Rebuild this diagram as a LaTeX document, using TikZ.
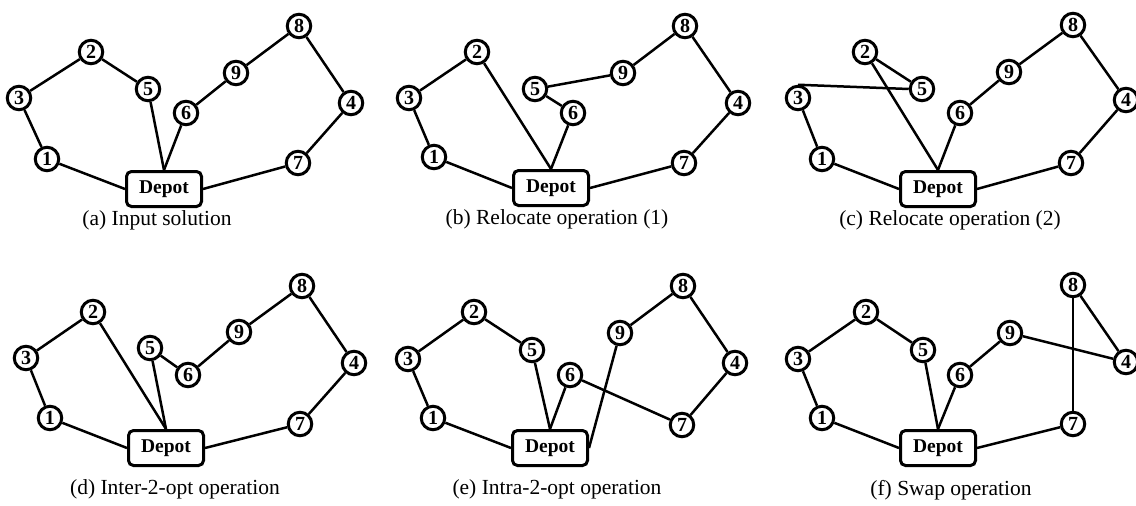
\documentclass[tikz,border=0pt]{standalone}
\usepackage{fontspec}
\setmainfont{Liberation Serif}
\tikzset{
  cust/.style={circle, draw, line width=3pt, fill=white, minimum size=23.5pt,
    inner sep=0pt, font=\fontsize{20}{20}\selectfont\bfseries},
  depot/.style={rectangle, draw, rounded corners=5pt, line width=3pt, fill=white,
    minimum width=75pt, minimum height=35pt, inner sep=0pt,
    font=\fontsize{19.5}{19.5}\selectfont\bfseries},
  route/.style={line width=2.5pt},
  caption/.style={inner sep=0pt, font=\fontsize{21.5}{24}\selectfont}
}
\begin{document}
\begin{tikzpicture}[x=1pt, y=-1pt]
\useasboundingbox (0,0) rectangle (1136,506);
\clip (0,0) rectangle (1136,506);

% ---------- (a) input solution ----------
\node[depot] (aD) at (164,189) {Depot};
\node[cust] (a1) at (47,159) {1};
\node[cust] (a2) at (91,52) {2};
\node[cust] (a3) at (19,98) {3};
\node[cust] (a4) at (351,103) {4};
\node[cust] (a5) at (148,89) {5};
\node[cust] (a6) at (186,113) {6};
\node[cust] (a7) at (298,163) {7};
\node[cust] (a8) at (299,26) {8};
\node[cust] (a9) at (236,73) {9};
\draw[route] (a3) -- (a2);
\draw[route] (a2) -- (a5);
\draw[route] (a5) -- (aD.north);
\draw[route] (a3) -- (a1);
\draw[route] (a1) -- (aD.west);
\draw[route] (aD.north) -- (a6);
\draw[route] (a6) -- (a9);
\draw[route] (a9) -- (a8);
\draw[route] (a8) -- (a4);
\draw[route] (a4) -- (a7);
\draw[route] (a7) -- (aD.east);
\node[caption] (acap) at (157,220) {(a) Input solution};

% ---------- (b) relocate (1) ----------
\node[depot] (bD) at (551,188) {Depot};
\node[cust] (b1) at (434,157) {1};
\node[cust] (b2) at (477,52) {2};
\node[cust] (b3) at (409,98) {3};
\node[cust] (b4) at (738,103) {4};
\node[cust] (b5) at (535,89) {5};
\node[cust] (b6) at (573,113) {6};
\node[cust] (b7) at (684,163) {7};
\node[cust] (b8) at (685,26) {8};
\node[cust] (b9) at (623,73) {9};
\draw[route] (b3) -- (b2);
\draw[route] (b2) -- (bD.north);
\draw[route] (b3) -- (b1);
\draw[route] (b1) -- (bD.west);
\draw[route] (b5) -- (b9);
\draw[route] (b5) -- (b6);
\draw[route] (b6) -- (bD.north);
\draw[route] (b9) -- (b8);
\draw[route] (b8) -- (b4);
\draw[route] (b4) -- (b7);
\draw[route] (b7) -- (bD.east);
\node[caption] (bcap) at (557,219) {(b) Relocate operation (1)};

% ---------- (c) relocate (2) ----------
\node[depot] (cD) at (938,189) {Depot};
\node[cust] (c1) at (822,159) {1};
\node[cust] (c2) at (865,52) {2};
\node[cust] (c3) at (798,98) {3};
\node[cust] (c4) at (1126,100) {4};
\node[cust] (c5) at (922,89) {5};
\node[cust] (c6) at (960,113) {6};
\node[cust] (c7) at (1071,163) {7};
\node[cust] (c8) at (1073,25) {8};
\node[cust] (c9) at (1009,72) {9};
\draw[route] (c3.north) -- (c5.west);
\draw[route] (c2) -- (c5);
\draw[route] (c2) -- (cD.north);
\draw[route] (c3) -- (c1);
\draw[route] (c1) -- (cD.west);
\draw[route] (c6) -- (cD.north);
\draw[route] (c6) -- (c9);
\draw[route] (c9) -- (c8);
\draw[route] (c8) -- (c4);
\draw[route] (c4) -- (c7);
\draw[route] (c7) -- (cD.east);
\node[caption] (ccap) at (950,220) {(c) Relocate operation (2)};

% ---------- (d) inter-2-opt ----------
\node[depot] (dD) at (166,448) {Depot};
\node[cust] (d1) at (50,418) {1};
\node[cust] (d2) at (93,312) {2};
\node[cust] (d3) at (26,358) {3};
\node[cust] (d4) at (354,363) {4};
\node[cust] (d5) at (150,348) {5};
\node[cust] (d6) at (188,375) {6};
\node[cust] (d7) at (300,424) {7};
\node[cust] (d8) at (302,286) {8};
\node[cust] (d9) at (239,332) {9};
\draw[route] (d3) -- (d2);
\draw[route] (d2) -- (dD.north);
\draw[route] (d5) -- (dD.north);
\draw[route] (d3) -- (d1);
\draw[route] (d1) -- (dD.west);
\draw[route] (d5) -- (d6);
\draw[route] (d6) -- (d9);
\draw[route] (d9) -- (d8);
\draw[route] (d8) -- (d4);
\draw[route] (d4) -- (d7);
\draw[route] (d7) -- (dD.east);
\node[caption] (dcap) at (175,489) {(d) Inter-2-opt operation};

% ---------- (e) intra-2-opt ----------
\node[depot] (eD) at (550,448) {Depot};
\node[cust] (e1) at (433,418) {1};
\node[cust] (e2) at (474,312) {2};
\node[cust] (e3) at (408,359) {3};
\node[cust] (e4) at (735,363) {4};
\node[cust] (e5) at (532,350) {5};
\node[cust] (e6) at (570,375) {6};
\node[cust] (e7) at (682,425) {7};
\node[cust] (e8) at (683,286) {8};
\node[cust] (e9) at (620,333) {9};
\draw[route] (e3) -- (e2);
\draw[route] (e2) -- (e5);
\draw[route] (e5) -- (eD.north);
\draw[route] (e3) -- (e1);
\draw[route] (e1) -- (eD.west);
\draw[route] (e6) -- (eD.north);
\draw[route] (e6) -- (e7);
\draw[route] (e9) -- (eD.east);
\draw[route] (e9) -- (e8);
\draw[route] (e8) -- (e4);
\draw[route] (e4) -- (e7);
\node[caption] (ecap) at (557,489) {(e) Intra-2-opt operation};

% ---------- (f) swap ----------
\node[depot] (fD) at (938,448) {Depot};
\node[cust] (f1) at (822,418) {1};
\node[cust] (f2) at (866,312) {2};
\node[cust] (f3) at (798,359) {3};
\node[cust] (f4) at (1126,362) {4};
\node[cust] (f5) at (923,350) {5};
\node[cust] (f6) at (960,375) {6};
\node[cust] (f7) at (1073,424) {7};
\node[cust] (f8) at (1073,285) {8};
\node[cust] (f9) at (1010,333) {9};
\draw[route] (f3) -- (f2);
\draw[route] (f2) -- (f5);
\draw[route] (f5) -- (fD.north);
\draw[route] (f3) -- (f1);
\draw[route] (f1) -- (fD.west);
\draw[route] (f6) -- (fD.north);
\draw[route] (f6) -- (f9);
\draw[route] (f9) -- (f4);
\draw[route] (f8) -- (f4);
\draw[route] (f8) -- (f7);
\draw[route] (f7) -- (fD.east);
\node[caption] (fcap) at (951,490) {(f) Swap operation};
\end{tikzpicture}
\end{document}
